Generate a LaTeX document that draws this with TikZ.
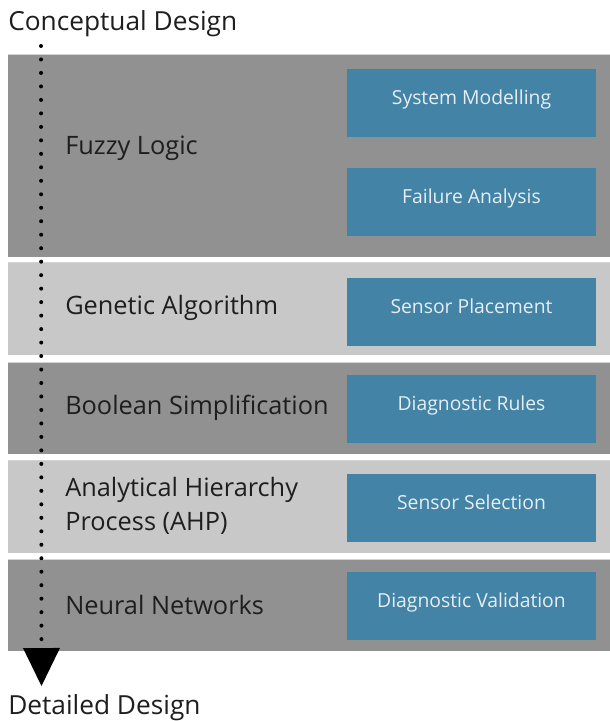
\documentclass[tikz,border=0pt]{standalone}
\usepackage{fontspec}
\setmainfont{Open Sans}
\usetikzlibrary{positioning, arrows.meta, calc, fit}
\tikzset{>=latex}

\definecolor{banddark}{HTML}{919191}
\definecolor{bandlight}{HTML}{C8C8C8}
\definecolor{bandedge}{HTML}{D4D4D4}
\definecolor{taskblue}{HTML}{4283A6}
\definecolor{tasktext}{HTML}{E6EEF3}
\definecolor{labeltext}{HTML}{1E1E1E}

\begin{document}
\begin{tikzpicture}[x=0.75pt, y=-0.75pt]

\tikzstyle{darkband}=[fill=banddark, inner sep=0, draw=none]
\tikzstyle{lightband}=[fill=bandlight, inner sep=0, draw=none]
\tikzstyle{method}=[text=labeltext, inner sep=0, align=left, font=\fontsize{19}{25.5}\selectfont]
\tikzstyle{stage}=[text=labeltext, inner sep=0, font=\fontsize{19.7}{23}\selectfont]
\tikzstyle{task}=[fill=taskblue, text=tasktext, inner sep=0, minimum width=186.75pt, minimum height=51pt, text height=0.72em, text depth=0.45em, font=\fontsize{14.5}{17}\selectfont]
\tikzstyle{flow}=[line width=3pt, line cap=round, dash pattern=on 0pt off 10.11pt, -{Triangle[width=27.75pt, length=28.5pt, line width=0pt]}]

\useasboundingbox (0,0) rectangle (610,721);

% bands
\node [darkband, fit={(8,55) (610,257)}] (band-fuzzy) {};
\node [lightband, fit={(8,263) (610,355)}] (band-genetic) {};
\node [darkband, fit={(8,363) (610,454)}] (band-boolean) {};
\node [lightband, fit={(8,461) (610,553)}] (band-ahp) {};
\node [darkband, fit={(8,560) (610,651)}] (band-neural) {};
\foreach \b in {fuzzy, genetic, boolean, ahp, neural}
	\draw [bandedge, line width=1pt] (band-\b.north west) -- (band-\b.north east);

% methods
\node [method, anchor=base west] (method-fuzzy) at (65,154) {Fuzzy Logic};
\node [method, anchor=base west] (method-genetic) at (65,314.5) {Genetic Algorithm};
\node [method, anchor=base west] (method-boolean) at (65,414) {Boolean Simplification};
\node [method, anchor=west] (method-ahp) at (65,506) {Analytical Hierarchy\\Process (AHP)};
\node [method, anchor=base west] (method-neural) at (65,614) {Neural Networks};

% tasks
\node [task] (task-model) at (471.5,103) {System Modelling};
\node [task] (task-failure) at ($(task-model) + (0,98.5)$) {Failure Analysis};
\node [task] (task-placement) at ($(task-failure) + (0,110)$) {Sensor Placement};
\node [task] (task-rules) at ($(task-placement) + (0,97.5)$) {Diagnostic Rules};
\node [task] (task-selection) at ($(task-rules) + (0,99)$) {Sensor Selection};
\node [task] (task-validation) at ($(task-selection) + (0,98)$) {Diagnostic Validation};

% design flow
\node [stage, anchor=base west] (conceptual) at (8,30) {Conceptual Design};
\node [stage, anchor=base west] (detailed) at (8,714) {Detailed Design};
\coordinate (flow-start) at (41,46);
\coordinate (flow-end) at (41.5,686);
\draw [flow] (flow-start) -- (flow-end);

\end{tikzpicture}
\end{document}
